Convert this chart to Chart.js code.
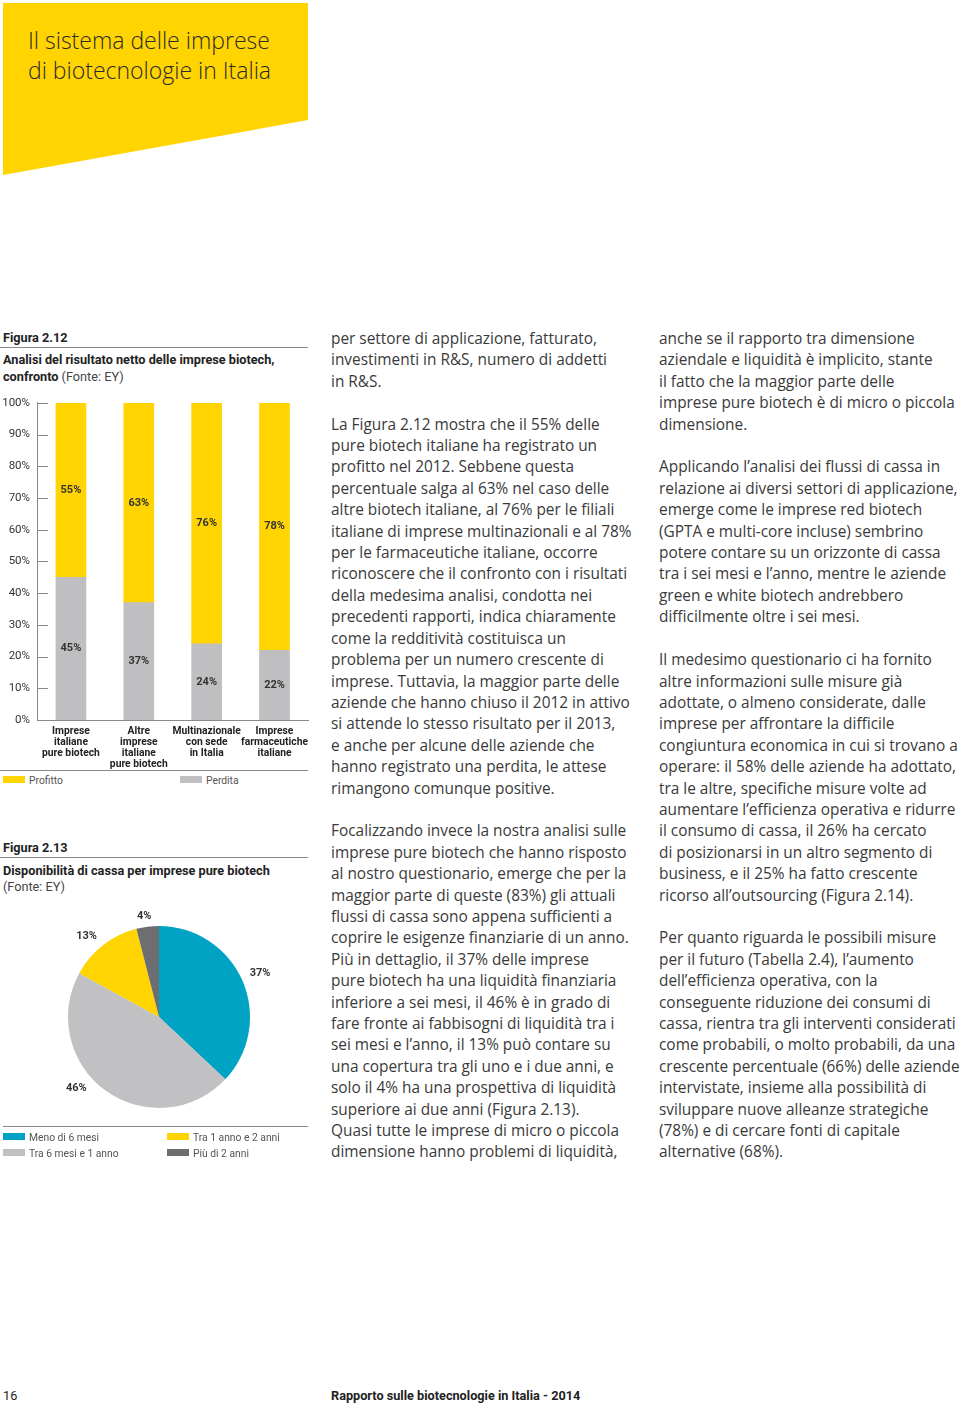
<!DOCTYPE html>
<html lang="it">
<head>
<meta charset="utf-8">
<title>Il sistema delle imprese di biotecnologie in Italia</title>
<script src="https://cdn.jsdelivr.net/npm/chart.js@4.4.1/dist/chart.umd.min.js"></script>
<style>
  html, body { margin: 0; padding: 0; background: #fff; }
  body { width: 960px; height: 1406px; position: relative; overflow: hidden; font-family: Roboto, "Open Sans", sans-serif; color: #333; }
  .banner { position: absolute; left: 3px; top: 3px; width: 305px; height: 172px; background: #ffd400;
            clip-path: polygon(0 0, 100% 0, 100% 117px, 0 100%); }
  .banner h1 { margin: 0; position: absolute; left: 25px; top: 22px; font: 300 23px/30px "Open Sans", sans-serif; color: #2b2b2b; white-space: nowrap; }
  .t { position: absolute; left: 3px; white-space: nowrap; font-size: 12.7px; line-height: 16px; color: #222; }
  .b { font-weight: bold; }
  .light { font-weight: normal; color: #444; }
  .rule { position: absolute; left: 0; width: 308px; height: 1px; background: #8a8a8a; }
  canvas { position: absolute; }
  .lg { position: absolute; font-size: 10.3px; line-height: 14px; color: #555; white-space: nowrap; }
  .sw { display: inline-block; width: 22px; height: 7px; margin-right: 4px; vertical-align: 1px; }
  .col { position: absolute; top: 328px; width: 305px; font: 15.4px/21.4px "Open Sans", sans-serif; color: #3a3a3a; white-space: pre; }
  .foot { position: absolute; top: 1388px; font-size: 12.7px; line-height: 16px; color: #222; white-space: nowrap; }
</style>
</head>
<body>

<div class="banner"><h1>Il sistema delle imprese<br>di biotecnologie in Italia</h1></div>

<div class="t b" style="top:330px">Figura 2.12</div>
<div class="rule" style="top:347px"></div>
<div class="t b" style="top:352px">Analisi del risultato netto delle imprese biotech,</div>
<div class="t b" style="top:369px">confronto <span class="light">(Fonte: EY)</span></div>

<canvas id="barChart" width="314" height="381" style="left:0;top:389px"></canvas>

<div class="rule" style="top:770px"></div>
<div class="lg" style="left:3px;top:774px"><span class="sw" style="background:#ffd400"></span>Profitto</div>
<div class="lg" style="left:180px;top:774px"><span class="sw" style="background:#bfbfc1"></span>Perdita</div>

<div class="t b" style="top:840px">Figura 2.13</div>
<div class="rule" style="top:857px"></div>
<div class="t b" style="top:863px">Disponibilità di cassa per imprese pure biotech</div>
<div class="t light" style="top:879px">(Fonte: EY)</div>

<canvas id="pieChart" width="310" height="240" style="left:0;top:890px"></canvas>

<div class="rule" style="top:1126px;left:3px;width:305px"></div>
<div id="pieLegend"></div>

<div class="col" style="left:331px">per settore di applicazione, fatturato,
investimenti in R&amp;S, numero di addetti
in R&amp;S.

La Figura 2.12 mostra che il 55% delle
pure biotech italiane ha registrato un
profitto nel 2012. Sebbene questa
percentuale salga al 63% nel caso delle
altre biotech italiane, al 76% per le filiali
italiane di imprese multinazionali e al 78%
per le farmaceutiche italiane, occorre
riconoscere che il confronto con i risultati
della medesima analisi, condotta nei
precedenti rapporti, indica chiaramente
come la redditività costituisca un
problema per un numero crescente di
imprese. Tuttavia, la maggior parte delle
aziende che hanno chiuso il 2012 in attivo
si attende lo stesso risultato per il 2013,
e anche per alcune delle aziende che
hanno registrato una perdita, le attese
rimangono comunque positive.

Focalizzando invece la nostra analisi sulle
imprese pure biotech che hanno risposto
al nostro questionario, emerge che per la
maggior parte di queste (83%) gli attuali
flussi di cassa sono appena sufficienti a
coprire le esigenze finanziarie di un anno.
Più in dettaglio, il 37% delle imprese
pure biotech ha una liquidità finanziaria
inferiore a sei mesi, il 46% è in grado di
fare fronte ai fabbisogni di liquidità tra i
sei mesi e l’anno, il 13% può contare su
una copertura tra gli uno e i due anni, e
solo il 4% ha una prospettiva di liquidità
superiore ai due anni (Figura 2.13).
Quasi tutte le imprese di micro o piccola
dimensione hanno problemi di liquidità,</div>

<div class="col" style="left:659px">anche se il rapporto tra dimensione
aziendale e liquidità è implicito, stante
il fatto che la maggior parte delle
imprese pure biotech è di micro o piccola
dimensione.

Applicando l’analisi dei flussi di cassa in
relazione ai diversi settori di applicazione,
emerge come le imprese red biotech
(GPTA e multi-core incluse) sembrino
potere contare su un orizzonte di cassa
tra i sei mesi e l’anno, mentre le aziende
green e white biotech andrebbero
difficilmente oltre i sei mesi.

Il medesimo questionario ci ha fornito
altre informazioni sulle misure già
adottate, o almeno considerate, dalle
imprese per affrontare la difficile
congiuntura economica in cui si trovano a
operare: il 58% delle aziende ha adottato,
tra le altre, specifiche misure volte ad
aumentare l’efficienza operativa e ridurre
il consumo di cassa, il 26% ha cercato
di posizionarsi in un altro segmento di
business, e il 25% ha fatto crescente
ricorso all’outsourcing (Figura 2.14).

Per quanto riguarda le possibili misure
per il futuro (Tabella 2.4), l’aumento
dell’efficienza operativa, con la
conseguente riduzione dei consumi di
cassa, rientra tra gli interventi considerati
come probabili, o molto probabili, da una
crescente percentuale (66%) delle aziende
intervistate, insieme alla possibilità di
sviluppare nuove alleanze strategiche
(78%) e di cercare fonti di capitale
alternative (68%).</div>

<div class="foot" style="left:3px">16</div>
<div class="foot b" style="left:331px">Rapporto sulle biotecnologie in Italia - 2014</div>

<script>
// Figura 2.12 - risultato netto
const categories = [
    ['Imprese', 'italiane', 'pure biotech'],
    ['Altre', 'imprese', 'italiane', 'pure biotech'],
    ['Multinazionale', 'con sede', 'in Italia'],
    ['Imprese', 'farmaceutiche', 'italiane']
];
const perdita = [45, 37, 24, 22];
const profitto = [55, 63, 76, 78];
const yTickValues = [0, 10, 20, 30, 40, 50, 60, 70, 80, 90, 100];

// Figura 2.13 - disponibilita di cassa
const cashLabels = ['Meno di 6 mesi', 'Tra 6 mesi e 1 anno', 'Tra 1 anno e 2 anni', 'Più di 2 anni'];
const cashShares = [37, 46, 13, 4];
const cashColors = ['#00a3c4', '#c1c1c3', '#ffd400', '#6d6e71'];

const YELLOW = '#ffd400';
const GREY = '#bfbfc1';
const INK = '#333';

Chart.defaults.font.family = 'Roboto, "Open Sans", sans-serif';
Chart.defaults.color = INK;

// value labels in the middle of every bar segment
const barValueLabels = {
    id: 'barValueLabels',
    afterDatasetsDraw(chart) {
        const ctx = chart.ctx;
        ctx.save();
        ctx.font = 'bold 11px Roboto, sans-serif';
        ctx.fillStyle = INK;
        ctx.textAlign = 'center';
        ctx.textBaseline = 'middle';
        chart.data.datasets.forEach((ds, i) => {
            chart.getDatasetMeta(i).data.forEach((bar, j) => {
                ctx.fillText(ds.data[j] + '%', bar.x, (bar.y + bar.base) / 2);
            });
        });
        ctx.restore();
    }
};

// short tick marks on the right side of the y axis line
const innerTicks = {
    id: 'innerTicks',
    afterDraw(chart) {
        const y = chart.scales.y;
        const ctx = chart.ctx;
        ctx.save();
        ctx.strokeStyle = '#8a8a8a';
        ctx.lineWidth = 1;
        y.ticks.forEach(t => {
            const py = Math.round(y.getPixelForValue(t.value)) + 0.5;
            ctx.beginPath();
            ctx.moveTo(y.right, py);
            ctx.lineTo(y.right + 11, py);
            ctx.stroke();
        });
        ctx.restore();
    }
};

new Chart(document.getElementById('barChart'), {
    type: 'bar',
    data: {
        labels: categories,
        datasets: [
            { label: 'Perdita', data: perdita, backgroundColor: GREY, barThickness: 30 },
            { label: 'Profitto', data: profitto, backgroundColor: YELLOW, barThickness: 30 }
        ]
    },
    options: {
        responsive: false,
        animation: false,
        devicePixelRatio: 1,
        layout: { padding: { top: 2, right: 0, left: 0, bottom: 0 } },
        plugins: { legend: { display: false }, tooltip: { enabled: false } },
        scales: {
            x: {
                stacked: true,
                grid: { display: false, drawTicks: false },
                border: { display: true, color: '#8a8a8a' },
                ticks: { padding: 6, maxRotation: 0, autoSkip: false, font: { size: 10.3, weight: 'bold', lineHeight: 1.07 }, color: '#222' },
                afterFit: s => { s.height = 50; }
            },
            y: {
                stacked: true,
                min: 0,
                max: 100,
                afterBuildTicks: s => { s.ticks = yTickValues.map(v => ({ value: v })); },
                grid: { display: false, drawTicks: false },
                border: { display: true, color: '#8a8a8a' },
                ticks: { padding: 7, font: { size: 11.5 }, color: INK, callback: v => v + '%' },
                afterFit: s => { s.width = 37; }
            }
        }
    },
    plugins: [barValueLabels, innerTicks]
});

// percentage labels just outside every slice
const pieValueLabels = {
    id: 'pieValueLabels',
    afterDatasetsDraw(chart, args, opts) {
        const ctx = chart.ctx;
        ctx.save();
        ctx.font = 'bold 11px Roboto, sans-serif';
        ctx.fillStyle = INK;
        ctx.textAlign = 'center';
        ctx.textBaseline = 'middle';
        chart.getDatasetMeta(0).data.forEach((arc, i) => {
            const mid = (arc.startAngle + arc.endAngle) / 2;
            const r = arc.outerRadius * opts.radiusFactor;
            const off = opts.nudge[i] || [0, 0];
            ctx.fillText(cashShares[i] + '%', arc.x + Math.cos(mid) * r + off[0], arc.y + Math.sin(mid) * r + off[1]);
        });
        ctx.restore();
    }
};

new Chart(document.getElementById('pieChart'), {
    type: 'pie',
    data: {
        labels: cashLabels,
        datasets: [{ data: cashShares, backgroundColor: cashColors, borderWidth: 0 }]
    },
    options: {
        responsive: false,
        animation: false,
        devicePixelRatio: 1,
        layout: { padding: { left: 68, right: 60, top: 36, bottom: 22 } },
        plugins: {
            legend: { display: false },
            tooltip: { enabled: false },
            pieValueLabels: { radiusFactor: 1.21, nudge: [[0, 0], [-18, -18], [-5, 6], [-1, 8]] }
        }
    },
    plugins: [pieValueLabels]
});

// legend for the pie, two columns
const legendPos = [[3, 1131], [3, 1147], [167, 1131], [167, 1147]];
const pieLegend = document.getElementById('pieLegend');
cashLabels.forEach((lab, i) => {
    const d = document.createElement('div');
    d.className = 'lg';
    d.style.left = legendPos[i][0] + 'px';
    d.style.top = legendPos[i][1] + 'px';
    d.innerHTML = '<span class="sw" style="background:' + cashColors[i] + '"></span>' + lab;
    pieLegend.appendChild(d);
});
</script>
</body>
</html>
